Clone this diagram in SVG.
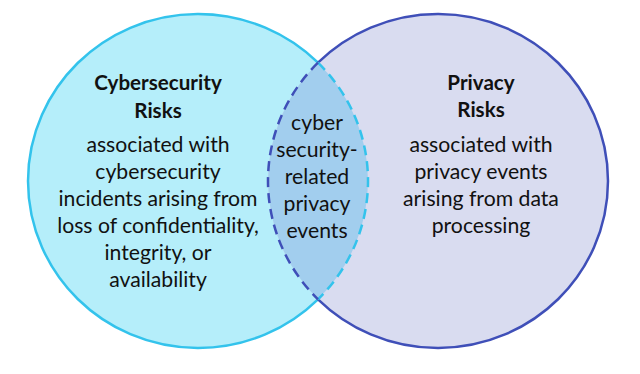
<svg xmlns="http://www.w3.org/2000/svg" width="640" height="374" viewBox="0 0 640 374">
<style>
text{font-family:Lato,"Open Sans","Liberation Sans",sans-serif;font-size:21.2px;fill:#111;text-anchor:middle}
.b{font-weight:bold;font-size:20.6px}
.solidL{fill:none;stroke:#33C3EC;stroke-width:2.5}
.solidR{fill:none;stroke:#3F4FB8;stroke-width:2.5}
.dash{stroke-dasharray:10 6}
</style>
<rect width="640" height="374" fill="#fff"/>
<g id="cyber">
<ellipse cx="198" cy="181" rx="170" ry="167" fill="#B5EEFA"/>
</g>
<g id="privacy">
<ellipse cx="438" cy="181" rx="170" ry="167" fill="#D9DCF0"/>
</g>
<g id="overlap">
<path d="M318,62.7 A170,167 0 0 1 318,299.3 A170,167 0 0 1 318,62.7 Z" fill="#A2CEEE"/>
</g>
<g id="outlines">
<path class="solidL" d="M318,62.7 A170,167 0 1 0 318,299.3"/>
<path class="solidR" d="M318,62.7 A170,167 0 1 1 318,299.3"/>
<path class="solidL dash" d="M318,62.7 A170,167 0 0 1 318,299.3"/>
<path class="solidR dash" d="M318,62.7 A170,167 0 0 0 318,299.3"/>
</g>
<g id="cyber-text">
<text class="b" x="158" y="90">Cybersecurity</text>
<text class="b" x="158" y="118">Risks</text>
<text x="158" y="152">associated with</text>
<text x="158" y="179">cybersecurity</text>
<text x="158" y="206">incidents arising from</text>
<text x="158" y="233">loss of confidentiality,</text>
<text x="158" y="260">integrity, or</text>
<text x="158" y="287">availability</text>
</g>
<g id="privacy-text">
<text class="b" x="481" y="90">Privacy</text>
<text class="b" x="481" y="117">Risks</text>
<text x="481" y="152">associated with</text>
<text x="481" y="179">privacy events</text>
<text x="481" y="206">arising from data</text>
<text x="481" y="233">processing</text>
</g>
<g id="overlap-text">
<text x="317" y="130">cyber</text>
<text x="317" y="157">security-</text>
<text x="317" y="184">related</text>
<text x="317" y="211">privacy</text>
<text x="317" y="238">events</text>
</g>
</svg>
